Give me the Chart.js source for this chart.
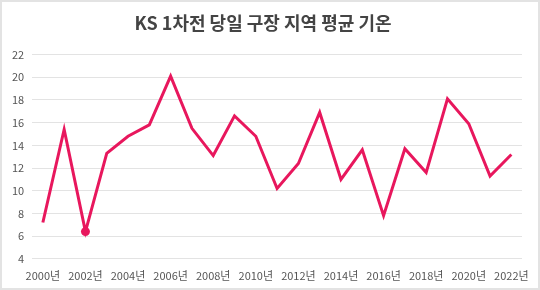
<!DOCTYPE html>
<html>
<head>
<meta charset="utf-8">
<script src="https://cdn.jsdelivr.net/npm/chart.js@4"></script>
<style>
  body { margin: 0; background: #fff; }
  #caja { width: 540px; height: 290px; box-sizing: border-box; border: 2px solid #e3e3e3; position: relative; }
  canvas { position: absolute; left: 0; top: 0; }
</style>
</head>
<body>
<div id="caja"><canvas id="myChart" width="536" height="286"></canvas></div>
<script>
// datos del grafico
const anios = [];
for (let i = 2000; i <= 2022; i++) anios.push(i + '년');
const temperaturas = [7.2, 15.4, 6.4, 13.3, 14.8, 15.8, 20.1, 15.5, 13.1, 16.6, 14.8, 10.2, 12.4, 16.9, 11.0, 13.6, 7.8, 13.7, 11.6, 18.1, 15.9, 11.3, 13.2];
const puntos = [0, 0, 4.5, 0, 0, 0, 0, 0, 0, 0, 0, 0, 0, 0, 0, 0, 0, 0, 0, 0, 0, 0, 0];
const titulo = 'KS 1차전 당일 구장 지역 평균 기온';

const fuente = "'Noto Sans CJK KR', Roboto, sans-serif";
const rosa = '#e8175d';

const ctx = document.querySelector('#myChart').getContext('2d');
new Chart(ctx, {
    type: 'line',
    data: {
        labels: anios,
        datasets: [{
            data: temperaturas,
            borderColor: rosa,
            backgroundColor: rosa,
            pointBackgroundColor: rosa,
            pointBorderWidth: 0,
            pointRadius: puntos,
            borderWidth: 3,
            tension: 0
        }]
    },
    options: {
        responsive: false,
        animation: false,
        layout: { padding: { left: 2, right: 16, top: 6, bottom: 4 } },
        plugins: {
            legend: { display: false },
            tooltip: { enabled: false },
            title: {
                display: true,
                text: titulo,
                color: '#444',
                font: { family: fuente, size: 18, weight: 'bold' },
                padding: { top: 4, bottom: 21 }
            }
        },
        scales: {
            x: {
                offset: true,
                grid: { display: false },
                border: { display: false },
                ticks: {
                    color: '#555',
                    font: { family: fuente, size: 11 },
                    maxRotation: 0,
                    autoSkip: false,
                    padding: 2,
                    callback: function (v, i) { return i % 2 === 0 ? anios[i] : ''; }
                }
            },
            y: {
                min: 4,
                max: 22,
                grid: { color: '#e3e3e3', lineWidth: 1, drawTicks: false },
                border: { display: false },
                ticks: {
                    stepSize: 2,
                    color: '#555',
                    font: { family: fuente, size: 11 },
                    padding: 8
                }
            }
        }
    }
});
</script>
</body>
</html>
